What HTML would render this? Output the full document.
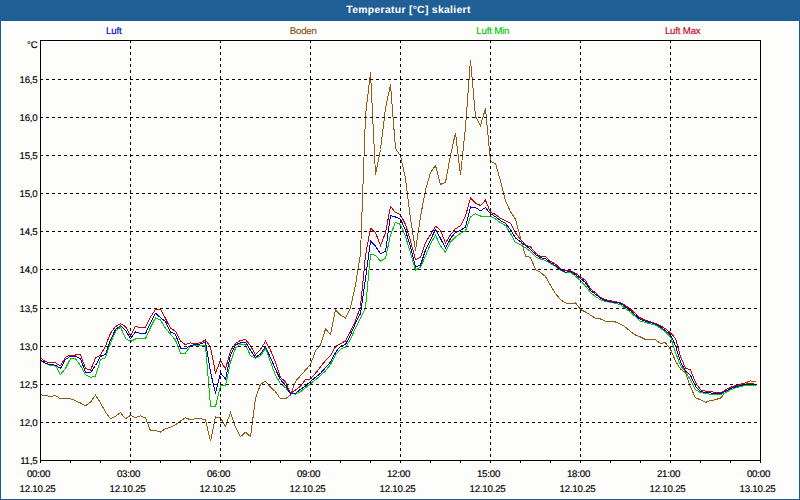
<!DOCTYPE html><html><head><meta charset="utf-8"><style>
html,body{margin:0;padding:0;background:#fff;width:800px;height:500px;overflow:hidden}
svg{display:block}
text{font-family:"Liberation Sans",sans-serif;font-size:9.7px;letter-spacing:-0.2px;text-rendering:geometricPrecision;stroke-width:0.15px}
.k{stroke:#000}
</style></head><body>
<svg width="800" height="500" viewBox="0 0 800 500">
<rect x="0" y="0" width="800" height="500" fill="#1b5a92"/>
<rect x="0" y="0" width="800" height="20" fill="#1f5f96"/>
<rect x="1" y="21" width="798" height="478" fill="#fdfefc"/>
<text x="408.5" y="13" text-anchor="middle" fill="#ffffff" style="font-weight:bold;font-size:10.4px;letter-spacing:0.3px;stroke:none">Temperatur [°C] skaliert</text>

<text x="113.8" y="34" text-anchor="middle" fill="#0000c8" stroke="#0000c8" stroke-width="0.15">Luft</text>
<text x="303.2" y="34" text-anchor="middle" fill="#8c5212" stroke="#8c5212" stroke-width="0.15">Boden</text>
<text x="492.8" y="34" text-anchor="middle" fill="#00c400" stroke="#00c400" stroke-width="0.15">Luft Min</text>
<text x="682.7" y="34" text-anchor="middle" fill="#c8001a" stroke="#c8001a" stroke-width="0.15">Luft Max</text>
<polyline points="40.5,394.7 45.5,395.5 50.5,396.7 55.5,395.5 60.5,398.8 65.5,398.8 70.5,398.8 75.5,400.7 80.5,403.0 85.5,405.7 90.5,402.2 95.5,395.0 100.5,403.0 105.5,412.0 110.5,418.7 115.5,416.2 120.5,412.7 125.5,418.7 130.5,415.3 135.5,417.7 140.5,415.7 145.5,418.0 150.5,430.7 155.5,430.7 160.5,432.0 165.5,428.8 170.5,427.3 175.5,424.7 180.5,421.0 185.5,417.7 190.5,419.8 195.5,418.7 200.5,418.7 205.5,419.8 210.5,441.2 215.5,416.8 220.5,418.0 225.5,426.2 230.5,412.7 235.5,427.0 240.5,436.7 245.5,432.2 250.5,436.7 255.5,398.5 260.5,384.2 265.5,381.2 270.5,387.1 275.5,391.7 280.5,398.9 285.5,398.9 290.5,394.9 295.5,381.3 300.5,375.7 305.5,370.1 310.5,364.5 315.5,350.9 320.5,345.0 325.5,329.0 330.5,334.5 335.5,310.0 340.5,315.0 345.5,318.0 350.5,307.8 355.5,284.8 360.5,253.7 365.5,115.5 370.5,72.5 375.5,174.5 380.5,149.5 385.5,108.5 390.5,84.5 395.5,148.5 400.5,156.1 405.5,178.5 410.5,218.5 415.5,250.5 420.5,216.5 425.5,190.1 430.5,172.5 435.5,165.5 440.5,184.5 445.5,182.3 450.5,155.5 455.5,132.8 460.5,175.1 465.5,127.0 470.5,59.7 475.5,116.5 480.5,125.5 485.5,108.5 490.5,161.5 495.5,163.5 500.5,180.9 505.5,200.7 510.5,211.7 515.5,219.2 520.5,238.0 525.5,256.0 530.5,257.5 535.5,269.5 540.5,272.5 545.5,276.5 550.5,285.5 555.5,293.5 560.5,299.6 565.5,302.9 570.5,304.0 575.5,302.9 580.5,309.5 585.5,312.0 590.5,315.1 595.5,318.3 600.5,319.0 605.5,321.2 610.5,321.2 615.5,322.0 620.5,324.1 625.5,327.1 630.5,331.5 635.5,335.0 640.5,337.0 645.5,339.5 650.5,340.0 655.5,339.8 660.5,343.3 665.5,342.7 670.5,349.3 675.5,361.0 680.5,369.1 685.5,372.7 690.5,387.1 695.5,397.9 700.5,399.7 705.5,402.4 710.5,400.6 715.5,399.7 720.5,398.0 725.5,392.5 730.5,388.3 735.5,386.2 740.5,384.4 745.5,382.7 750.5,380.9 755.5,382.0" fill="none" stroke="#8f5a12" stroke-width="1" shape-rendering="crispEdges"/>
<polyline points="40.5,361.0 45.5,363.2 50.5,365.5 55.5,365.5 60.5,374.5 65.5,368.5 70.5,358.7 75.5,358.7 80.5,365.5 85.5,374.5 90.5,377.5 95.5,376.0 100.5,359.8 105.5,357.7 110.5,343.0 115.5,331.7 120.5,326.9 125.5,338.5 130.5,341.5 135.5,339.0 140.5,338.6 145.5,338.7 150.5,327.5 155.5,317.7 160.5,320.0 165.5,328.2 170.5,334.2 175.5,340.2 180.5,353.0 185.5,353.0 190.5,346.2 195.5,345.0 200.5,345.0 205.5,345.4 210.5,406.0 215.5,406.7 220.5,385.7 225.5,385.7 230.5,362.0 235.5,348.1 240.5,344.0 245.5,344.9 250.5,355.7 255.5,358.4 260.5,355.7 265.5,348.1 270.5,362.0 275.5,375.3 280.5,383.7 285.5,387.7 290.5,393.3 295.5,394.1 300.5,391.7 305.5,387.7 310.5,383.7 315.5,379.7 320.5,375.7 325.5,370.9 330.5,364.5 335.5,354.9 340.5,349.3 345.5,347.0 350.5,339.4 355.5,327.9 360.5,318.3 365.5,307.9 370.5,254.5 375.5,255.2 380.5,261.2 385.5,258.2 390.5,235.0 395.5,222.2 400.5,224.5 405.5,236.5 410.5,253.0 415.5,270.2 420.5,267.2 425.5,256.0 430.5,243.9 435.5,235.2 440.5,246.0 445.5,252.0 450.5,242.2 455.5,237.0 460.5,233.2 465.5,231.0 470.5,216.7 475.5,213.7 480.5,216.0 485.5,216.0 490.5,216.0 495.5,219.0 500.5,222.7 505.5,225.5 510.5,233.7 515.5,242.5 520.5,244.7 525.5,247.7 530.5,251.5 535.5,256.7 540.5,259.0 545.5,260.5 550.5,263.5 555.5,266.5 560.5,270.2 565.5,272.5 570.5,272.5 575.5,276.2 580.5,280.7 585.5,285.9 590.5,292.7 595.5,296.5 600.5,299.8 605.5,301.7 610.5,302.2 615.5,303.2 620.5,304.7 625.5,308.5 630.5,312.2 635.5,316.7 640.5,321.2 645.5,322.4 650.5,323.9 655.5,325.1 660.5,328.3 665.5,332.1 670.5,336.8 675.5,352.5 680.5,365.5 685.5,371.8 690.5,379.9 695.5,389.8 700.5,392.5 705.5,393.4 710.5,394.3 715.5,394.6 720.5,394.6 725.5,392.8 730.5,389.9 735.5,387.9 740.5,386.5 745.5,385.3 750.5,385.5 755.5,385.5" fill="none" stroke="#00c800" stroke-width="1" shape-rendering="crispEdges"/>
<polyline points="40.5,358.0 45.5,361.7 50.5,362.9 55.5,362.9 60.5,365.9 65.5,357.2 70.5,355.0 75.5,355.0 80.5,354.7 85.5,368.5 90.5,370.3 95.5,358.0 100.5,355.0 105.5,346.0 110.5,333.2 115.5,326.5 120.5,323.9 125.5,326.5 130.5,335.5 135.5,326.3 140.5,327.9 145.5,327.5 150.5,317.0 155.5,309.5 160.5,309.0 165.5,318.5 170.5,328.2 175.5,331.2 180.5,341.0 185.5,344.7 190.5,342.9 195.5,343.8 200.5,342.6 205.5,340.0 210.5,346.9 215.5,373.1 220.5,360.3 225.5,369.0 230.5,350.9 235.5,343.5 240.5,340.4 245.5,339.5 250.5,345.8 255.5,354.8 260.5,349.4 265.5,341.3 270.5,350.2 275.5,362.5 280.5,377.3 285.5,382.1 290.5,393.3 295.5,390.1 300.5,386.1 305.5,379.7 310.5,378.9 315.5,373.3 320.5,366.9 325.5,360.5 330.5,355.7 335.5,346.5 340.5,343.7 345.5,341.0 350.5,331.5 355.5,320.7 360.5,306.5 365.5,255.5 370.5,228.2 375.5,232.7 380.5,245.5 385.5,232.7 390.5,206.5 395.5,212.5 400.5,214.7 405.5,224.5 410.5,241.0 415.5,259.7 420.5,257.5 425.5,242.5 430.5,234.8 435.5,226.2 440.5,230.2 445.5,243.0 450.5,234.7 455.5,228.7 460.5,225.7 465.5,216.0 470.5,198.0 475.5,203.2 480.5,205.5 485.5,200.2 490.5,212.2 495.5,214.5 500.5,218.2 505.5,220.8 510.5,223.2 515.5,232.7 520.5,239.5 525.5,244.7 530.5,247.0 535.5,253.0 540.5,256.7 545.5,256.7 550.5,261.2 555.5,264.2 560.5,268.7 565.5,271.0 570.5,270.7 575.5,273.2 580.5,277.0 585.5,280.3 590.5,289.0 595.5,292.7 600.5,297.2 605.5,299.8 610.5,300.7 615.5,301.7 620.5,302.8 625.5,305.5 630.5,309.2 635.5,313.7 640.5,318.1 645.5,320.3 650.5,322.0 655.5,323.3 660.5,325.7 665.5,328.8 670.5,332.8 675.5,338.5 680.5,356.5 685.5,368.2 690.5,370.0 695.5,382.6 700.5,389.8 705.5,391.1 710.5,391.6 715.5,392.3 720.5,392.6 725.5,390.1 730.5,387.1 735.5,385.7 740.5,384.1 745.5,382.9 750.5,383.8 755.5,384.1" fill="none" stroke="#c80000" stroke-width="1" shape-rendering="crispEdges"/>
<polyline points="40.5,360.2 45.5,363.2 50.5,364.7 55.5,365.2 60.5,368.5 65.5,359.5 70.5,356.2 75.5,356.5 80.5,358.7 85.5,372.2 90.5,372.5 95.5,365.5 100.5,356.5 105.5,354.2 110.5,340.0 115.5,329.5 120.5,325.7 125.5,330.2 130.5,338.5 135.5,331.8 140.5,333.7 145.5,333.5 150.5,323.0 155.5,313.2 160.5,317.7 165.5,321.5 170.5,332.0 175.5,334.2 180.5,348.5 185.5,348.8 190.5,345.5 195.5,344.6 200.5,344.0 205.5,341.7 210.5,371.9 215.5,393.5 220.5,372.8 225.5,379.1 230.5,354.8 235.5,344.9 240.5,342.7 245.5,342.2 250.5,350.3 255.5,357.5 260.5,353.9 265.5,346.7 270.5,357.8 275.5,369.2 280.5,379.7 285.5,385.3 290.5,394.1 295.5,393.3 300.5,389.3 305.5,386.1 310.5,381.3 315.5,377.3 320.5,373.3 325.5,367.7 330.5,362.1 335.5,352.5 340.5,346.1 345.5,344.5 350.5,335.0 355.5,323.1 360.5,313.5 365.5,278.5 370.5,241.0 375.5,246.2 380.5,253.7 385.5,251.5 390.5,215.5 395.5,217.0 400.5,219.2 405.5,230.5 410.5,247.0 415.5,267.2 420.5,265.0 425.5,250.0 430.5,239.7 435.5,229.6 440.5,238.5 445.5,248.2 450.5,238.5 455.5,232.5 460.5,230.2 465.5,227.2 470.5,207.0 475.5,207.7 480.5,210.7 485.5,207.7 490.5,213.7 495.5,216.7 500.5,220.5 505.5,223.5 510.5,229.6 515.5,238.0 520.5,241.7 525.5,245.5 530.5,249.2 535.5,254.5 540.5,257.8 545.5,258.7 550.5,262.7 555.5,265.7 560.5,269.5 565.5,272.2 570.5,271.3 575.5,274.7 580.5,278.5 585.5,282.6 590.5,290.5 595.5,294.2 600.5,298.0 605.5,300.7 610.5,301.7 615.5,302.5 620.5,303.2 625.5,307.0 630.5,310.7 635.5,315.2 640.5,319.7 645.5,321.1 650.5,322.6 655.5,324.1 660.5,327.0 665.5,330.7 670.5,334.7 675.5,345.7 680.5,361.9 685.5,370.9 690.5,375.4 695.5,386.2 700.5,391.6 705.5,392.5 710.5,393.0 715.5,393.5 720.5,393.5 725.5,391.2 730.5,388.5 735.5,387.0 740.5,385.5 745.5,384.4 750.5,384.4 755.5,384.8" fill="none" stroke="#0000d8" stroke-width="1" shape-rendering="crispEdges"/>
<g shape-rendering="crispEdges" fill="none" stroke="#000" stroke-width="1">
<line x1="130.5" y1="40" x2="130.5" y2="460" stroke-dasharray="3 3"/>
<line x1="220.5" y1="40" x2="220.5" y2="460" stroke-dasharray="3 3"/>
<line x1="310.5" y1="40" x2="310.5" y2="460" stroke-dasharray="3 3"/>
<line x1="400.5" y1="40" x2="400.5" y2="460" stroke-dasharray="3 3"/>
<line x1="490.5" y1="40" x2="490.5" y2="460" stroke-dasharray="3 3"/>
<line x1="580.5" y1="40" x2="580.5" y2="460" stroke-dasharray="3 3"/>
<line x1="670.5" y1="40" x2="670.5" y2="460" stroke-dasharray="3 3"/>
<line x1="40" y1="422.5" x2="760" y2="422.5" stroke-dasharray="3 3"/>
<line x1="40" y1="384.5" x2="760" y2="384.5" stroke-dasharray="3 3"/>
<line x1="40" y1="346.5" x2="760" y2="346.5" stroke-dasharray="3 3"/>
<line x1="40" y1="308.5" x2="760" y2="308.5" stroke-dasharray="3 3"/>
<line x1="40" y1="269.5" x2="760" y2="269.5" stroke-dasharray="3 3"/>
<line x1="40" y1="231.5" x2="760" y2="231.5" stroke-dasharray="3 3"/>
<line x1="40" y1="193.5" x2="760" y2="193.5" stroke-dasharray="3 3"/>
<line x1="40" y1="155.5" x2="760" y2="155.5" stroke-dasharray="3 3"/>
<line x1="40" y1="117.5" x2="760" y2="117.5" stroke-dasharray="3 3"/>
<line x1="40" y1="79.5" x2="760" y2="79.5" stroke-dasharray="3 3"/>
<rect x="40.5" y="40.5" width="720" height="420"/>
<line x1="40.5" y1="460" x2="40.5" y2="463"/>
<line x1="70.5" y1="460" x2="70.5" y2="463"/>
<line x1="100.5" y1="460" x2="100.5" y2="463"/>
<line x1="130.5" y1="460" x2="130.5" y2="463"/>
<line x1="160.5" y1="460" x2="160.5" y2="463"/>
<line x1="190.5" y1="460" x2="190.5" y2="463"/>
<line x1="220.5" y1="460" x2="220.5" y2="463"/>
<line x1="250.5" y1="460" x2="250.5" y2="463"/>
<line x1="280.5" y1="460" x2="280.5" y2="463"/>
<line x1="310.5" y1="460" x2="310.5" y2="463"/>
<line x1="340.5" y1="460" x2="340.5" y2="463"/>
<line x1="370.5" y1="460" x2="370.5" y2="463"/>
<line x1="400.5" y1="460" x2="400.5" y2="463"/>
<line x1="430.5" y1="460" x2="430.5" y2="463"/>
<line x1="460.5" y1="460" x2="460.5" y2="463"/>
<line x1="490.5" y1="460" x2="490.5" y2="463"/>
<line x1="520.5" y1="460" x2="520.5" y2="463"/>
<line x1="550.5" y1="460" x2="550.5" y2="463"/>
<line x1="580.5" y1="460" x2="580.5" y2="463"/>
<line x1="610.5" y1="460" x2="610.5" y2="463"/>
<line x1="640.5" y1="460" x2="640.5" y2="463"/>
<line x1="670.5" y1="460" x2="670.5" y2="463"/>
<line x1="700.5" y1="460" x2="700.5" y2="463"/>
<line x1="730.5" y1="460" x2="730.5" y2="463"/>
<line x1="760.5" y1="460" x2="760.5" y2="463"/>
</g>
<text x="37.5" y="464" text-anchor="end" fill="#000" class="k">11,5</text>
<text x="37.5" y="426" text-anchor="end" fill="#000" class="k">12,0</text>
<text x="37.5" y="388" text-anchor="end" fill="#000" class="k">12,5</text>
<text x="37.5" y="350" text-anchor="end" fill="#000" class="k">13,0</text>
<text x="37.5" y="312" text-anchor="end" fill="#000" class="k">13,5</text>
<text x="37.5" y="273" text-anchor="end" fill="#000" class="k">14,0</text>
<text x="37.5" y="235" text-anchor="end" fill="#000" class="k">14,5</text>
<text x="37.5" y="197" text-anchor="end" fill="#000" class="k">15,0</text>
<text x="37.5" y="159" text-anchor="end" fill="#000" class="k">15,5</text>
<text x="37.5" y="121" text-anchor="end" fill="#000" class="k">16,0</text>
<text x="37.5" y="83" text-anchor="end" fill="#000" class="k">16,5</text>
<text x="37.5" y="48" text-anchor="end" fill="#000" class="k">°C</text>
<text x="38.5" y="477" text-anchor="middle" fill="#000" class="k">00:00</text>
<text x="37.5" y="492" text-anchor="middle" fill="#000" class="k">12.10.25</text>
<text x="128.5" y="477" text-anchor="middle" fill="#000" class="k">03:00</text>
<text x="127.5" y="492" text-anchor="middle" fill="#000" class="k">12.10.25</text>
<text x="218.5" y="477" text-anchor="middle" fill="#000" class="k">06:00</text>
<text x="217.5" y="492" text-anchor="middle" fill="#000" class="k">12.10.25</text>
<text x="308.5" y="477" text-anchor="middle" fill="#000" class="k">09:00</text>
<text x="307.5" y="492" text-anchor="middle" fill="#000" class="k">12.10.25</text>
<text x="398.5" y="477" text-anchor="middle" fill="#000" class="k">12:00</text>
<text x="397.5" y="492" text-anchor="middle" fill="#000" class="k">12.10.25</text>
<text x="488.5" y="477" text-anchor="middle" fill="#000" class="k">15:00</text>
<text x="487.5" y="492" text-anchor="middle" fill="#000" class="k">12.10.25</text>
<text x="578.5" y="477" text-anchor="middle" fill="#000" class="k">18:00</text>
<text x="577.5" y="492" text-anchor="middle" fill="#000" class="k">12.10.25</text>
<text x="668.5" y="477" text-anchor="middle" fill="#000" class="k">21:00</text>
<text x="667.5" y="492" text-anchor="middle" fill="#000" class="k">12.10.25</text>
<text x="758.5" y="477" text-anchor="middle" fill="#000" class="k">00:00</text>
<text x="757.5" y="492" text-anchor="middle" fill="#000" class="k">13.10.25</text>
</svg></body></html>
